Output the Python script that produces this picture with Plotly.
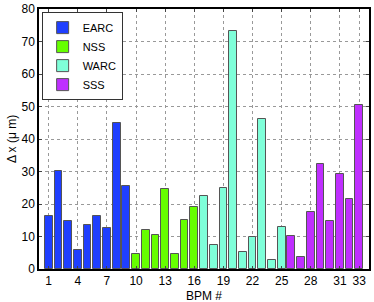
import plotly.graph_objects as go

bpm_earc = [1, 2, 3, 4, 5, 6, 7, 8, 9]
dx_earc = [16.2, 30.3, 14.7, 5.8, 13.5, 16.2, 12.6, 45.0, 25.5]
bpm_nss = [10, 11, 12, 13, 14, 15, 16]
dx_nss = [4.7, 12.1, 10.5, 24.7, 4.5, 15.1, 19.2]
bpm_warc = [17, 18, 19, 20, 21, 22, 23, 24, 25]
dx_warc = [22.4, 7.3, 25.0, 73.1, 5.3, 10.0, 46.2, 2.9, 12.9]
bpm_sss = [26, 27, 28, 29, 30, 31, 32, 33]
dx_sss = [10.1, 3.8, 17.5, 32.2, 14.8, 29.2, 21.4, 50.5]

x_ticks = [1, 4, 7, 10, 13, 16, 19, 22, 25, 28, 31, 33]
y_ticks = [0, 10, 20, 30, 40, 50, 60, 70, 80]

series = [
    ("EARC", bpm_earc, dx_earc, "#1f3fff"),
    ("NSS", bpm_nss, dx_nss, "#66ff00"),
    ("WARC", bpm_warc, dx_warc, "#7fffd9"),
    ("SSS", bpm_sss, dx_sss, "#bf2fff"),
]

fig = go.Figure()
for name, xs, ys, col in series:
    fig.add_trace(go.Bar(
        x=xs, y=ys, name=name, width=0.8,
        marker=dict(color=col, line=dict(color="#555555", width=1)),
    ))

font = dict(family="Liberation Sans, Arial, sans-serif", size=12, color="black")
fig.update_layout(
    width=374, height=302,
    margin=dict(l=39, r=5, t=9, b=33, autoexpand=False),
    paper_bgcolor="white", plot_bgcolor="white",
    font=font,
    showlegend=True,
    legend=dict(x=0.008, y=0.988, xanchor="left", yanchor="top",
                bordercolor="#333333", borderwidth=1, bgcolor="white",
                font=dict(size=11), tracegroupgap=0, itemwidth=30),
    bargap=0,
    annotations=[dict(text="BPM #", x=0.5, y=-0.102, xref="paper", yref="paper",
                      xanchor="center", yanchor="middle", showarrow=False,
                      font=dict(size=12))],
)
fig.update_xaxes(
    range=[0, 34], tickvals=x_ticks, ticks="inside", ticklen=3,
    showline=True, linecolor="black", linewidth=1.5, mirror="ticks",
    showgrid=True, gridcolor="#999999", griddash="dot", gridwidth=1,
    zeroline=False, automargin=False,
    tickfont=dict(size=12),
)
fig.update_yaxes(
    range=[0, 80], tickvals=y_ticks, ticks="inside", ticklen=3,
    showline=True, linecolor="black", linewidth=1.5, mirror="ticks",
    showgrid=True, gridcolor="#999999", griddash="dot", gridwidth=1,
    zeroline=False, automargin=False,
    title=dict(text="Δ x (μ m)", standoff=2, font=dict(size=12)),
    tickfont=dict(size=12),
)
fig.write_html("out.html", config={"displayModeBar": False},
               post_script="document.body.style.margin='0';")
